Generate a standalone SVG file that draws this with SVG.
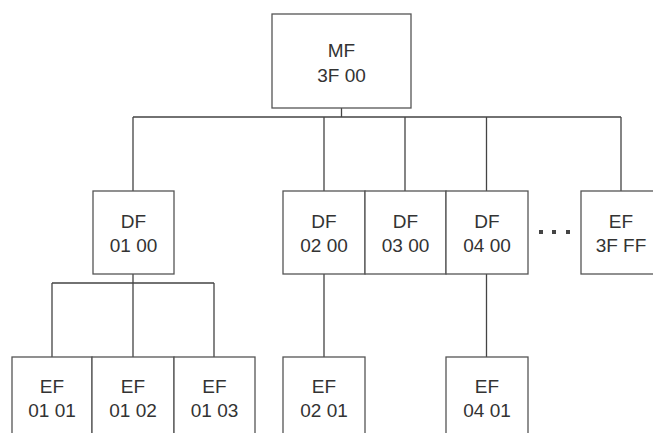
<svg xmlns="http://www.w3.org/2000/svg" width="653" height="433" viewBox="0 0 653 433">
<style>
.box{fill:#fff;stroke:#555;stroke-width:1.3}
.ln{fill:none;stroke:#444;stroke-width:1.3}
text{font-family:"Liberation Sans",Arial,sans-serif;font-size:19px;fill:#333;text-anchor:middle}
.dot{fill:#444}
</style>
<rect width="653" height="433" fill="#fff"/>
<g id="connectors">
<path class="ln" d="M341.5 108V117M133 117H621M133 117V191M324 117V191M405 117V191M486.5 117V191M621 117V191"/>
<path class="ln" d="M133 274V283M52 283H214M52 283V357M133 283V357M214 283V357"/>
<path class="ln" d="M324 274V357M486.5 274V357"/>
</g>
<g id="mf"><rect class="box" x="272" y="14" width="139" height="94"/><text x="341.5" y="57">MF</text><text x="341.5" y="82">3F 00</text></g>
<g id="df0100"><rect class="box" x="93" y="191" width="81" height="83"/><text x="133.5" y="228">DF</text><text x="133.5" y="252">01 00</text></g>
<g id="df0200"><rect class="box" x="283" y="191" width="82" height="83"/><text x="324" y="228">DF</text><text x="324" y="252">02 00</text></g>
<g id="df0300"><rect class="box" x="365" y="191" width="81" height="83"/><text x="405.5" y="228">DF</text><text x="405.5" y="252">03 00</text></g>
<g id="df0400"><rect class="box" x="446" y="191" width="82" height="83"/><text x="487" y="228">DF</text><text x="487" y="252">04 00</text></g>
<g id="ellipsis"><rect class="dot" x="539" y="230" width="4" height="4"/><rect class="dot" x="552" y="230" width="4" height="4"/><rect class="dot" x="566" y="230" width="4" height="4"/></g>
<g id="ef3fff"><rect class="box" x="581" y="191" width="80" height="83"/><text x="621" y="228">EF</text><text x="621" y="252">3F FF</text></g>
<g id="ef0101"><rect class="box" x="12" y="357" width="80" height="90"/><text x="52" y="393">EF</text><text x="52" y="417">01 01</text></g>
<g id="ef0102"><rect class="box" x="92" y="357" width="82" height="90"/><text x="133" y="393">EF</text><text x="133" y="417">01 02</text></g>
<g id="ef0103"><rect class="box" x="174" y="357" width="81" height="90"/><text x="214.5" y="393">EF</text><text x="214.5" y="417">01 03</text></g>
<g id="ef0201"><rect class="box" x="283" y="357" width="82" height="90"/><text x="324" y="393">EF</text><text x="324" y="417">02 01</text></g>
<g id="ef0401"><rect class="box" x="446" y="357" width="82" height="90"/><text x="487" y="393">EF</text><text x="487" y="417">04 01</text></g>
</svg>
